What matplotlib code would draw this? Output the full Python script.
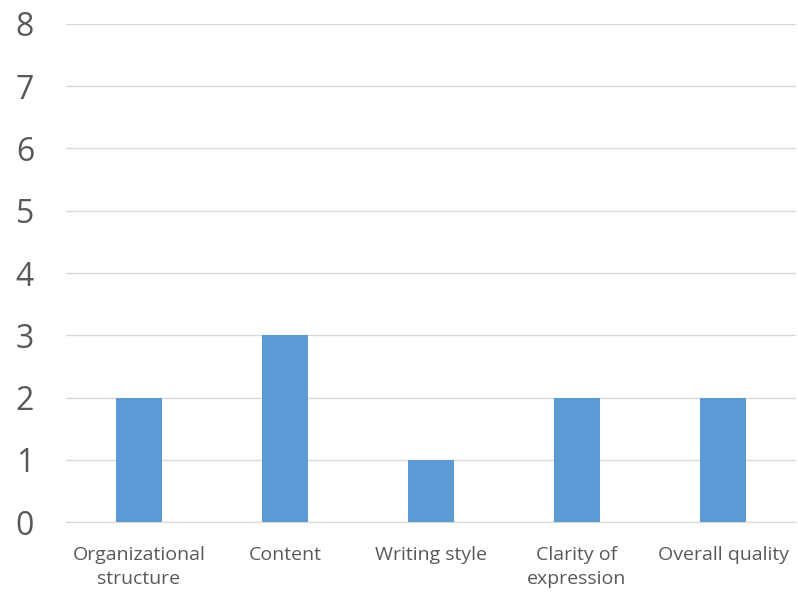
import matplotlib.pyplot as plt

# Notas por critério
categorias = ["Organizational\nstructure", "Content", "Writing style",
              "Clarity of\nexpression", "Overall quality"]
valores = [2, 3, 1, 2, 2]
ticks_y = [0, 1, 2, 3, 4, 5, 6, 7, 8]

plt.rcParams['font.family'] = ['Open Sans', 'DejaVu Sans']

fig = plt.figure(figsize=(7.98, 5.92), dpi=100)
ax = fig.add_axes([0.0827, 0.1182, 0.9148, 0.8413])

x = range(len(categorias))
ax.bar(x, valores, width=0.315, color='#5B9BD5', zorder=3)

ax.set_xlim(-0.5, len(categorias) - 0.5)
ax.set_ylim(0, 8)
ax.set_yticks(ticks_y)
ax.set_yticklabels([str(t) for t in ticks_y], fontsize=23, color='#595959')
ax.set_xticks(list(x))
ax.set_xticklabels(categorias, fontsize=14, color='#595959', linespacing=1.45)

ax.grid(axis='y', color='#d9d9d9', linewidth=1, zorder=0)
for lado in ['top', 'right', 'left']:
    ax.spines[lado].set_visible(False)
ax.spines['bottom'].set_color('#d9d9d9')
ax.tick_params(axis='both', length=0)
ax.tick_params(axis='y', pad=23)
ax.tick_params(axis='x', pad=17)

fig.savefig('out.png', dpi=100)
